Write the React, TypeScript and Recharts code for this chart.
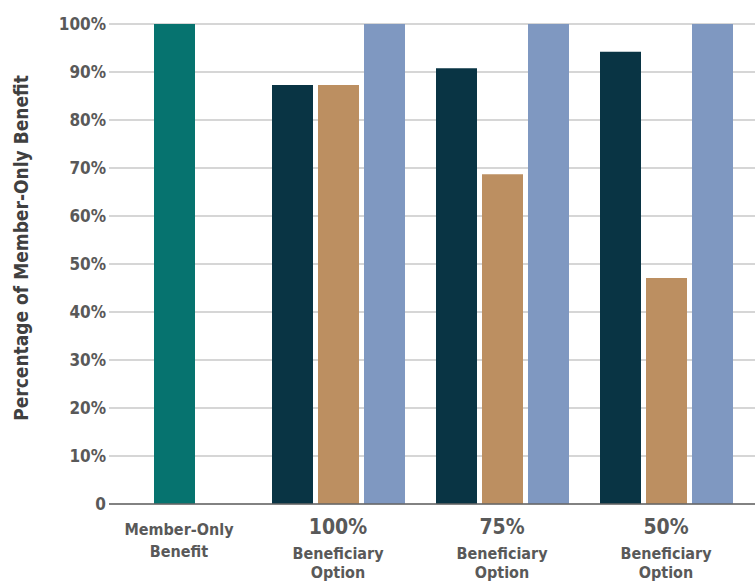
import { BarChart, Bar, XAxis, YAxis, CartesianGrid } from 'recharts';

const categories = ['Member-Only Benefit', '100% Beneficiary Option', '75% Beneficiary Option', '50% Beneficiary Option'];
const memberOnly = [100, null, null, null];
const memberShare = [null, 87.3, 90.8, 94.2];
const beneficiaryShare = [null, 87.3, 68.7, 47.1];
const totalShare = [null, 100, 100, 100];
const yTicks = [0, 10, 20, 30, 40, 50, 60, 70, 80, 90, 100];

const FONT = '"Liberation Sans Narrow", "DejaVu Sans Condensed", "Roboto Condensed", sans-serif';

const data = categories.map((name, i) => ({
  name,
  memberOnly: memberOnly[i],
  member: memberShare[i],
  beneficiary: beneficiaryShare[i],
  total: totalShare[i],
}));

function XTick({ x, y, payload }: any) {
  const label: string = payload.value;
  if (label.startsWith('Member')) {
    return (
      <g fill="#595959" fontFamily={FONT} fontWeight="bold" fontSize={16}>
        <text x={x + 5} y={y + 31} textAnchor="middle">Member-Only</text>
        <text x={x + 5} y={y + 53} textAnchor="middle">Benefit</text>
      </g>
    );
  }
  const [pct, ...rest] = label.split(' ');
  return (
    <g fill="#595959" fontFamily={FONT} fontWeight="bold">
      <text x={x} y={y + 30} textAnchor="middle" fontSize={21}>{pct}</text>
      <text x={x} y={y + 55} textAnchor="middle" fontSize={16}>{rest[0]}</text>
      <text x={x} y={y + 74} textAnchor="middle" fontSize={16}>{rest[1]}</text>
    </g>
  );
}

function YLabel() {
  return (
    <text
      x={28}
      y={248}
      transform="rotate(-90, 28, 248)"
      textAnchor="middle"
      fill="#404040"
      fontFamily={FONT}
      fontWeight="bold"
      fontSize={19}
    >
      Percentage of Member-Only Benefit
    </text>
  );
}

export default function App() {
  return (
    <div style={{ position: 'absolute', left: 0, top: 0, width: 755, height: 586, background: '#fff' }}>
      <BarChart
        width={755}
        height={586}
        data={data}
        margin={{ top: 24, right: 0, bottom: 0, left: 0 }}
        barCategoryGap={16}
        barGap={5}
      >
        <CartesianGrid vertical={false} stroke="#c8c8c8" strokeWidth={1.5} />
        <XAxis
          dataKey="name"
          height={82}
          padding={{ left: -17, right: 7 }}
          tickLine={false}
          tickSize={0}
          tickMargin={0}
          axisLine={{ stroke: '#666', strokeWidth: 1.5 }}
          tick={<XTick />}
          interval={0}
        />
        <YAxis
          width={109}
          domain={[0, 100]}
          ticks={yTicks}
          tickFormatter={(v: number) => (v === 0 ? '0' : `${v}%`)}
          axisLine={false}
          tickLine={false}
          tickSize={0}
          tickMargin={3}
          tick={{ fill: '#595959', fontSize: 17, fontWeight: 'bold', fontFamily: FONT }}
          label={<YLabel />}
        />
        <Bar dataKey="member" stackId="left" fill="#093444" isAnimationActive={false} />
        <Bar dataKey="memberOnly" stackId="mid" fill="#06736f" isAnimationActive={false} />
        <Bar dataKey="beneficiary" stackId="mid" fill="#bc8f61" isAnimationActive={false} />
        <Bar dataKey="total" stackId="right" fill="#7f98c1" isAnimationActive={false} />
      </BarChart>
    </div>
  );
}
